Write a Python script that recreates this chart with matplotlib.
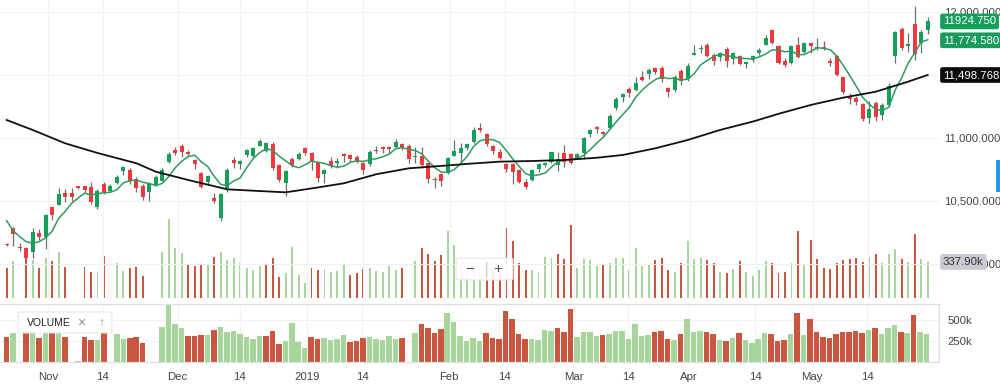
import numpy as np
import pandas as pd
import matplotlib
matplotlib.use("Agg")
import matplotlib.pyplot as plt
from matplotlib.patches import FancyBboxPatch, Rectangle
from matplotlib.lines import Line2D
from matplotlib.ticker import FuncFormatter
import matplotlib.transforms as mtrans

plt.rcParams['font.family'] = ['Liberation Sans', 'DejaVu Sans']

# one row per session
opens = [10155, 10280, 10135, 10127, 10089, 10240, 10207, 10447, 10463, 10558,
         10558, 10614, 10614, 10606, 10452, 10633, 10580, 10643, 10732, 10741,
         10672, 10620, 10566, 10625, 10660, 10810, 10903, 10935, 10890, 10823,
         10723, 10651, 10518, 10360, 10601, 10823, 10789, 10863, 10855, 10938,
         10897, 10950, 10782, 10637, 10829, 10829, 10915, 10880, 10802, 10709,
         10815, 10797, 10870, 10862, 10845, 10802, 10789, 10905, 10930, 10928,
         10925, 10950, 10937, 10845, 10856, 10797, 10672, 10711, 10723, 10855,
         10877, 10916, 10970, 11080, 11028, 10935, 10885, 10792, 10789, 10744,
         10646, 10664, 10752, 10784, 10810, 10784, 10881, 10869, 10842, 10876,
         11028, 11083, 11044, 11075, 11234, 11327, 11388, 11380, 11481, 11507,
         11557, 11557, 11398, 11380, 11533, 11465, 11658, 11703, 11738, 11658,
         11645, 11706, 11624, 11650, 11587, 11618, 11672, 11738, 11857, 11730,
         11613, 11597, 11738, 11684, 11751, 11724, 11724, 11608, 11650, 11481,
         11335, 11319, 11266, 11155, 11279, 11181, 11261, 11653, 11862, 11732,
         11905, 11751, 11857]
highs = [10162, 10288, 10160, 10130, 10283, 10275, 10394, 10452, 10601, 10593,
         10600, 10620, 10620, 10646, 10590, 10649, 10633, 10700, 10774, 10757,
         10685, 10633, 10646, 10700, 10757, 10890, 10923, 10949, 10900, 10829,
         10730, 10705, 10558, 10558, 10760, 10845, 10822, 10912, 10930, 10990,
         10968, 10969, 10790, 10745, 10845, 10890, 10930, 10890, 10810, 10750,
         10845, 10837, 10875, 10870, 10865, 10810, 10902, 10935, 10935, 10935,
         10988, 10960, 10950, 10930, 10930, 10802, 10685, 10720, 10845, 10982,
         10960, 10960, 11082, 11120, 11040, 10943, 10910, 10797, 10797, 10755,
         10672, 10755, 10800, 10810, 10890, 10890, 10942, 10876, 10880, 11009,
         11070, 11095, 11052, 11187, 11320, 11355, 11406, 11486, 11533, 11552,
         11565, 11573, 11406, 11495, 11544, 11592, 11738, 11738, 11756, 11672,
         11685, 11720, 11685, 11660, 11605, 11660, 11710, 11817, 11862, 11740,
         11632, 11738, 11799, 11765, 11765, 11791, 11770, 11632, 11660, 11486,
         11354, 11335, 11274, 11295, 11295, 11274, 11433, 11851, 11883, 11831,
         12048, 11857, 11963]
lows = [10140, 10137, 10097, 10020, 10047, 10188, 10113, 10349, 10463, 10487,
        10495, 10590, 10570, 10474, 10437, 10553, 10570, 10633, 10700, 10630,
        10566, 10503, 10500, 10620, 10655, 10797, 10865, 10850, 10850, 10752,
        10598, 10625, 10478, 10340, 10566, 10762, 10752, 10850, 10845, 10935,
        10890, 10744, 10650, 10537, 10770, 10825, 10862, 10744, 10650, 10637,
        10760, 10760, 10810, 10810, 10797, 10713, 10776, 10877, 10880, 10880,
        10916, 10903, 10797, 10797, 10760, 10637, 10598, 10620, 10709, 10855,
        10810, 10905, 10958, 11048, 10935, 10872, 10830, 10728, 10632, 10637,
        10593, 10659, 10730, 10770, 10800, 10736, 10770, 10790, 10835, 10842,
        11004, 11035, 11020, 11067, 11220, 11285, 11327, 11374, 11452, 11465,
        11510, 11446, 11320, 11360, 11420, 11454, 11658, 11672, 11645, 11580,
        11613, 11560, 11585, 11580, 11557, 11600, 11660, 11738, 11745, 11590,
        11565, 11585, 11632, 11672, 11672, 11698, 11698, 11570, 11493, 11350,
        11266, 11260, 11136, 11115, 11136, 11141, 11247, 11597, 11698, 11684,
        11618, 11672, 11823]
closes = [10148, 10235, 10122, 10047, 10254, 10208, 10389, 10386, 10556, 10527,
          10532, 10598, 10585, 10487, 10574, 10568, 10620, 10685, 10764, 10653,
          10601, 10527, 10633, 10685, 10741, 10871, 10882, 10890, 10871, 10789,
          10611, 10696, 10497, 10553, 10741, 10797, 10813, 10903, 10915, 10977,
          10956, 10757, 10664, 10733, 10784, 10870, 10875, 10810, 10683, 10741,
          10776, 10815, 10858, 10829, 10810, 10744, 10889, 10892, 10911, 10914,
          10964, 10925, 10829, 10858, 10784, 10670, 10668, 10660, 10837, 10897,
          10915, 10948, 11058, 11064, 10951, 10898, 10837, 10752, 10730, 10646,
          10611, 10744, 10792, 10802, 10885, 10829, 10810, 10797, 10871, 10996,
          11062, 11066, 11028, 11176, 11308, 11346, 11352, 11433, 11459, 11539,
          11525, 11465, 11362, 11481, 11454, 11573, 11676, 11716, 11650, 11613,
          11672, 11613, 11676, 11587, 11600, 11650, 11698, 11791, 11751, 11597,
          11579, 11730, 11645, 11756, 11732, 11711, 11706, 11592, 11499, 11362,
          11308, 11282, 11149, 11226, 11163, 11261, 11412, 11839, 11711, 11746,
          11666, 11843, 11925]
# volume in thousands, None = no print that session
volumes = [294, 349, None, 367, 354, 290, 372, 346, 415, 301,
           None, 15, 296, 261, 256, 386, None, 333, 270, 289,
           298, 230, None, None, 420, 678, 449, 408, 313, 309,
           318, 321, 381, 420, 353, 373, 333, 294, 274, 309,
           313, 373, 218, 253, 460, 238, 170, 294, 274, 282,
           262, 270, 318, 238, 250, 282, 294, 270, 262, 309,
           278, 289, None, 349, 452, 401, 349, 393, 587, 472,
           309, 253, 282, 250, 341, 282, 274, 610, 508, 333,
           274, 274, 262, 381, 373, 401, 361, 634, 294, 361,
           353, 309, 321, 333, 373, 373, 274, 452, 309, 318,
           353, 373, 274, 262, 333, 508, 361, 373, 353, 333,
           262, 250, 282, 349, 262, 230, 274, 349, 330, 250,
           262, 330, 587, 318, 515, 361, 294, 282, 330, 353,
           361, 373, 341, 381, 401, 333, 401, 440, 361, 341,
           559, 361, 338]
# closes of the sessions just before the window (feed the 5-day average)
prior_closes = [10635, 10352, 10247, 10318]

# long moving average, read at these sessions
long_ma_idx = [0, 4, 9, 14, 20, 23, 28, 34, 38, 43, 48, 52, 57, 62, 67, 71,
               76, 81, 86, 91, 95, 100, 105, 110, 115, 119, 124, 129, 134, 139, 142]
long_ma_vals = [11141, 11062, 10956, 10879, 10797, 10730, 10664, 10590, 10579,
                10566, 10605, 10638, 10710, 10757, 10776, 10792, 10810, 10815,
                10823, 10841, 10863, 10916, 10982, 11062, 11128, 11190, 11261,
                11319, 11366, 11446, 11499]

tick_pos = [6.4, 14.85, 26.4, 36.0, 46.3, 54.9, 68.3, 76.8, 87.5, 95.9,
            105.3, 115.5, 124.3, 132.8]
tick_labels = ["Nov", "14", "Dec", "14", "2019", "14", "Feb", "14", "Mar", "14",
               "Apr", "14", "May", "14"]

green = '#12a05c'
red = '#f2373d'
vgreen = '#a8d59c'
vred = '#c9573f'
txt = '#444444'
grid = '#f0f1f4'

o = np.array(opens, float)
h = np.array(highs, float)
l = np.array(lows, float)
c = np.array(closes, float)
x = np.arange(len(c))
vol = np.array([np.nan if v is None else v for v in volumes], float) * 1000
has_vol = ~np.isnan(vol)

sma5 = pd.Series(prior_closes + closes, dtype=float).rolling(5).mean().values[len(prior_closes):]
prev_close = np.r_[prior_closes[-1], c[:-1]]
vcols = np.where(c >= prev_close, vgreen, vred)
ccols = np.where(c >= o, green, red)

W, H = 1000, 390
def box(left, top, right, bottom):
    return [left / W, 1 - bottom / H, (right - left) / W, (bottom - top) / H]

fig = plt.figure(figsize=(10, 3.9), dpi=100)
ax = fig.add_axes(box(0, 0, 940, 298))
axv = ax.twinx()
ax2 = fig.add_axes(box(0, 304, 939, 362), sharex=ax)
ax.set_zorder(2)
ax.patch.set_visible(False)
axv.set_zorder(1)

# volume overlay in the price pane
axv.bar(x[has_vol], vol[has_vol], width=0.3, color=vcols[has_vol])
axv.set_ylim(52e3, 2417e3)
axv.set_axis_off()

# candles
body_h = np.maximum(np.abs(c - o), 10)
body_b = np.minimum(o, c) - (body_h - np.abs(c - o)) / 2
ax.vlines(x, l, h, color='#6e6e6e', lw=0.9, zorder=2)
ax.bar(x, body_h, bottom=body_b, width=0.62, color=ccols, zorder=3)
ax.plot(x, sma5, color='#2f9b5e', lw=1.1, zorder=4)
ax.plot(long_ma_idx, long_ma_vals, color='#111111', lw=1.3, zorder=4)

ax.set_xlim(-1.03, 143.9)
ax.set_ylim(9726, 12095)
ax.yaxis.tick_right()
ax.set_yticks([10000, 10500, 11000, 11500, 12000])
ax.yaxis.set_major_formatter(FuncFormatter(lambda v, p: f"{v:,.3f}"))
ax.tick_params(axis='y', length=0, pad=3, labelsize=8.2, labelcolor=txt)
ax.tick_params(axis='x', length=0, labelbottom=False)
ax.grid(True, color=grid, lw=0.8, zorder=0)
for s in ax.spines.values():
    s.set_visible(False)

# volume pane
ax2.bar(x[has_vol], vol[has_vol], width=0.85, color=vcols[has_vol])
ax2.set_ylim(0, 690e3)
ax2.yaxis.tick_right()
ax2.set_yticks([250e3, 500e3])
ax2.set_yticklabels(["250k", "500k"])
ax2.set_xticks(tick_pos)
ax2.set_xticklabels(tick_labels)
ax2.tick_params(axis='y', length=0, pad=6, labelsize=8.2, labelcolor=txt)
ax2.tick_params(axis='x', length=0, pad=7, labelsize=8.2, labelcolor=txt)
ax2.grid(True, color=grid, lw=0.8)
ax2.set_axisbelow(True)
ax2.spines['left'].set_visible(False)
for s in ['top', 'right', 'bottom']:
    ax2.spines[s].set_color('#dcdfe6')
    ax2.spines[s].set_linewidth(0.9)

# last-value boxes on the price scale
tr_price = mtrans.blended_transform_factory(fig.transFigure, ax.transData)
tr_vol = mtrans.blended_transform_factory(fig.transFigure, axv.transData)

def tag(tr, y, s, fc, tc='white'):
    fig.text(943 / W, y, s, transform=tr, ha='left', va='center', fontsize=8.2,
             color=tc, zorder=10,
             bbox=dict(boxstyle='round,pad=0.25,rounding_size=0.2', fc=fc, ec='none'))

tag(tr_price, 11924.75, "11924.750", '#159f5c')
tag(tr_price, 11774.58, "11,774.580", '#1a9b5c')
tag(tr_price, 11498.768, "11,498.768", '#0b0b0b')
tag(tr_vol, 337.9e3, "337.90k", '#c9cad3', '#333333')

# small blue tab on the right edge
fig.add_artist(Rectangle((996 / W, 1 - 192 / H), 4 / W, 32 / H,
                         transform=fig.transFigure, fc='#2196f3', ec='none'))

# zoom control
fig.add_artist(FancyBboxPatch((456 / W, 1 - 280 / H), 57 / W, 22 / H,
                              boxstyle='round,pad=0,rounding_size=0.004',
                              transform=fig.transFigure, fc='white', ec='#e4e4e4',
                              alpha=0.9, lw=0.8, zorder=20))
fig.add_artist(Line2D([486 / W, 486 / W], [1 - 276 / H, 1 - 262 / H],
                      transform=fig.transFigure, color='#d0d0d0', lw=0.8, zorder=21))
fig.text(470 / W, 1 - 269 / H, "\u2212", ha='center', va='center', fontsize=11,
         color='#555555', zorder=22)
fig.text(498 / W, 1 - 269 / H, "+", ha='center', va='center', fontsize=11,
         color='#555555', zorder=22)

# VOLUME legend
fig.add_artist(FancyBboxPatch((18 / W, 1 - 333 / H), 94 / W, 21 / H,
                              boxstyle='round,pad=0,rounding_size=0.004',
                              transform=fig.transFigure, fc='white', ec='#e6e6e6',
                              alpha=0.92, lw=0.8, zorder=20))
fig.text(27 / W, 1 - 323 / H, "VOLUME", ha='left', va='center', fontsize=7.5,
         color='#222222', zorder=22)
fig.text(81 / W, 1 - 323 / H, "\u00d7", ha='center', va='center', fontsize=10,
         color='#888888', zorder=22)
fig.text(101 / W, 1 - 323 / H, "\u2191", ha='center', va='center', fontsize=8.5,
         color='#999999', zorder=22)

fig.savefig("out.png", dpi=100)
